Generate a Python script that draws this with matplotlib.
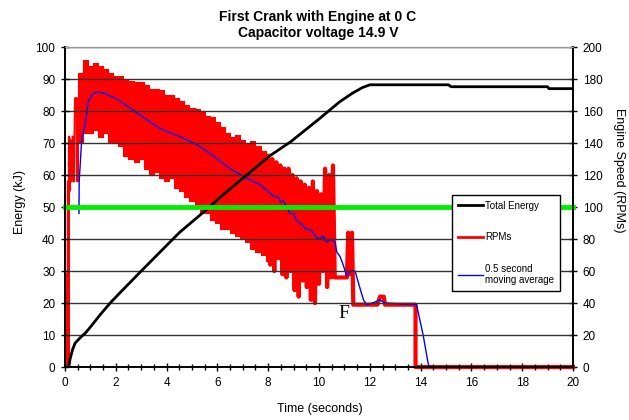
"""
First crank with engine at 0 C: total energy drawn from the capacitor
and engine speed (raw RPMs and 0.5 s moving average) against time.
"""
import matplotlib
matplotlib.use("Agg")
import matplotlib.pyplot as plt
from matplotlib.lines import Line2D
from matplotlib.ticker import MultipleLocator

# total energy (kJ) against time (s)
energy_t = [0.15, 0.2, 0.3, 0.4, 0.6, 0.8, 1.0, 1.4, 1.8, 2.2, 3.0, 4.5,
            5.6, 6.1, 7.0, 8.1, 8.9, 10.0, 10.8, 11.3, 11.7, 12.0, 15.1,
            15.2, 19.0, 19.05, 20.0]
energy_kj = [0, 2.5, 5.5, 7.5, 9.2, 10.6, 12.5, 16.5, 20.2, 23.5, 30, 42,
             49.4, 53, 59, 66.2, 70.5, 77.5, 82.8, 85.5, 87.3, 88.2, 88.2,
             87.6, 87.6, 87.0, 87.0]

# engine speed (RPM): start-up spikes
start_t = [0.0, 0.06, 0.08, 0.1, 0.12, 0.14, 0.16, 0.18, 0.2, 0.25, 0.3,
           0.35, 0.4, 0.45]
start_rpm = [0, 0, 58, 0, 116, 4, 144, 110, 142, 116, 144, 116, 168, 168]

# engine speed (RPM): dense oscillation band, upper and lower edge
band_t = [0.45, 0.6, 0.8, 1.0, 1.2, 1.4, 1.6, 1.8, 2.0, 2.2, 2.4, 2.6,
          2.8, 3.0, 3.2, 3.4, 3.6, 3.8, 4.0, 4.2, 4.4, 4.6, 4.8, 5.0, 5.2,
          5.4, 5.6, 5.8, 6.0, 6.2, 6.4, 6.6, 6.8, 7.0, 7.2, 7.4, 7.6, 7.8,
          8.0]
band_hi = [168, 184, 192, 188, 190, 188, 186, 184, 182, 182, 180, 179, 178,
           178, 176, 174, 174, 173, 170, 170, 168, 166, 164, 162, 161, 160,
           157, 156, 153, 150, 146, 144, 145, 142, 140, 141, 138, 135, 132]
band_lo = [116, 140, 146, 146, 148, 144, 146, 140, 140, 138, 132, 130, 128,
           130, 124, 120, 122, 118, 116, 118, 112, 110, 106, 104, 100, 96,
           96, 92, 90, 86, 86, 84, 82, 80, 78, 74, 72, 70, 66]

# engine speed (RPM): separate spikes, stall and stop
tail_t = [8.0, 8.08, 8.16, 8.24, 8.32, 8.40, 8.48, 8.56, 8.64, 8.72, 8.80,
          8.88, 8.96, 9.04, 9.12, 9.20, 9.28, 9.36, 9.44, 9.52, 9.60, 9.68,
          9.76, 9.84, 9.92, 10.0, 10.08, 10.16, 10.24, 10.32, 10.40, 10.48,
          10.55, 10.62, 11.1, 11.15, 11.2, 11.3, 11.35, 12.3, 12.4, 12.55,
          12.6, 13.8, 13.8, 20.0]
tail_rpm = [132, 64, 130, 60, 128, 68, 126, 58, 124, 56, 124, 60, 120, 48,
            118, 44, 116, 54, 114, 50, 112, 42, 116, 40, 110, 52, 108, 60,
            124, 50, 120, 56, 126, 56, 56, 84, 58, 84, 39, 39, 44, 44, 39,
            39, 0, 0]

# 0.5 second moving average of engine speed (RPM)
avg_t = [0.55, 0.56, 0.66, 0.79, 0.92, 1.05, 1.25, 1.57, 2.1, 3.0, 3.74,
         4.53, 5.2, 5.84, 6.5, 7.15, 7.68, 8.2, 8.4, 8.5, 8.6, 8.73, 8.85,
         9.0, 9.1, 9.25, 9.4, 9.5, 9.65, 9.78, 9.9, 10.04, 10.15, 10.3,
         10.45, 10.63, 10.7, 10.83, 10.95, 11.09, 11.25, 11.42, 11.6, 11.75,
         11.88, 12.1, 12.4, 12.6, 13.84, 14.1, 14.3, 14.35, 20.0]
avg_rpm = [96, 116, 143, 151, 166, 170, 172, 171, 167, 157, 149, 144, 139,
           132, 124, 118, 114, 107, 106, 103, 104, 100, 96, 96, 92, 90, 88,
           86, 86, 84, 81, 80, 82, 78, 80, 78, 72, 69, 64, 57, 60, 60, 50,
           42, 39, 40, 42, 40, 39, 20, 2, 0, 0]

threshold_kj = 50

plt.rcParams['font.family'] = ['Liberation Sans', 'DejaVu Sans']


def main():
    fig = plt.figure(figsize=(6.29, 4.2), dpi=100)
    ax = fig.add_axes([0.1033, 0.126, 0.8077, 0.762])
    ax2 = ax.twinx()
    # energy axis on top so the black and green lines cover the red band
    ax.set_zorder(ax2.get_zorder() + 1)
    ax.patch.set_visible(False)

    # engine speed on the right axis
    red = '#ff0000'
    ax2.plot(start_t, start_rpm, color=red, lw=1.6)
    ax2.fill_between(band_t, band_lo, band_hi, color=red, lw=0.8,
                     step='mid')
    ax2.plot(tail_t, tail_rpm, color=red, lw=3.0, clip_on=False)
    ax2.plot(avg_t, avg_rpm, color='#0000ff', lw=1.0)

    # energy on the left axis
    ax.plot(energy_t, energy_kj, color='black', lw=2.0)
    ax.axhline(threshold_kj, color='#00ee00', lw=3.5, clip_on=False)

    ax.set_xlim(0, 20)
    ax.set_ylim(0, 100)
    ax2.set_ylim(0, 200)
    ax.xaxis.set_major_locator(MultipleLocator(2))
    ax.xaxis.set_minor_locator(MultipleLocator(0.5))
    ax.yaxis.set_major_locator(MultipleLocator(10))
    ax2.yaxis.set_major_locator(MultipleLocator(20))

    ax.yaxis.grid(True, color='#333333', lw=1.0)
    ax.get_ygridlines()[-1].set_visible(False)

    ax.tick_params(axis='both', which='major', direction='inout',
                   length=6, width=1, labelsize=8.5, pad=4)
    ax.tick_params(axis='x', which='minor', direction='inout', length=5,
                   width=1)
    ax2.tick_params(axis='y', direction='inout', length=6, width=1,
                    labelsize=8.5, pad=4)

    for a in (ax, ax2):
        for side in ('left', 'right', 'bottom'):
            a.spines[side].set_color('black')
            a.spines[side].set_linewidth(1.2)
        a.spines['top'].set_color('#999999')

    # label of the stall point
    ax.text(10.98, 16.8, "F", family='Liberation Serif', fontsize=14,
            ha='center', va='center')

    handles = [Line2D([], [], color='black', lw=2.0),
               Line2D([], [], color=red, lw=2.0),
               Line2D([], [], color='#0000ff', lw=1.0)]
    labels = ["Total Energy", "RPMs", "0.5 second\nmoving average"]
    leg = ax.legend(handles, labels, loc='upper left',
                    bbox_to_anchor=(0.762, 0.5375), borderaxespad=0,
                    fontsize=7, fancybox=False, framealpha=1,
                    edgecolor='black', handlelength=2.6, handletextpad=0.2,
                    labelspacing=2.2, borderpad=0.6)
    leg.get_frame().set_linewidth(1.0)

    fig.text(318 / 629, 1 - 17 / 420, "First Crank with Engine at 0 C",
             ha='center', va='center', fontsize=10, fontweight='bold')
    fig.text(318 / 629, 1 - 33 / 420, "Capacitor voltage 14.9 V",
             ha='center', va='center', fontsize=10, fontweight='bold')
    fig.text(20 / 629, 1 - 202 / 420, "Energy (kJ)", rotation=90,
             ha='center', va='center', fontsize=9)
    fig.text(619 / 629, 1 - 170 / 420, "Engine Speed (RPMs)", rotation=270,
             ha='center', va='center', fontsize=9)
    fig.text(320 / 629, 1 - 409 / 420, "Time (seconds)",
             ha='center', va='center', fontsize=9)

    fig.savefig('out.png', dpi=100, facecolor='white')


if __name__ == "__main__":
    main()
